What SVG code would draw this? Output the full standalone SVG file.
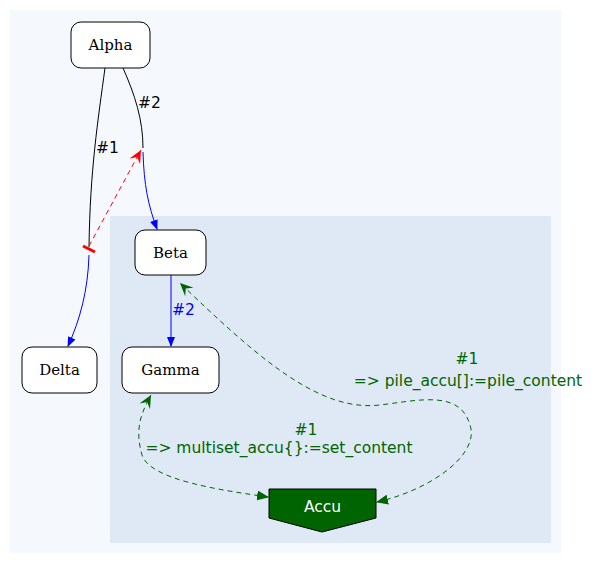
<svg xmlns="http://www.w3.org/2000/svg" width="604" height="564" viewBox="0 0 604 564">
<style>
.n{fill:#fff;stroke:#000;stroke-width:1}
.t{font-family:"DejaVu Serif","Liberation Serif",serif;font-size:15px;text-anchor:middle}
.l{font-family:"DejaVu Sans","Liberation Sans",sans-serif;font-size:15.5px}
.g{fill:none;stroke:#006400;stroke-dasharray:5,4}
</style>
<defs>
<marker id="ab" markerWidth="10" markerHeight="8" refX="9" refY="4" orient="auto" markerUnits="userSpaceOnUse"><path d="M0,0L10,4L0,8z" fill="#00f"/></marker>
<marker id="ag" markerWidth="12" markerHeight="10" refX="11" refY="5" orient="auto-start-reverse" markerUnits="userSpaceOnUse"><path d="M0,0L12,5L0,10z" fill="#006400"/></marker>
<marker id="vg" markerWidth="14" markerHeight="12" refX="13" refY="6" orient="auto" markerUnits="userSpaceOnUse"><path d="M0,0L13,6L0,12L5,6z" fill="#006400"/></marker>
<marker id="vr" markerWidth="14" markerHeight="12" refX="13" refY="6" orient="auto" markerUnits="userSpaceOnUse"><path d="M0,0L13,6L0,12L5,6z" fill="#f00"/></marker>
</defs>
<rect x="10" y="10" width="551" height="543" fill="#f5f9fe"/>
<rect x="110" y="216" width="441" height="327" fill="#dee9f5"/>
<g id="connectors">
<path d="M105,68C98,120 90,170 89,247" fill="none" stroke="#000"/>
<path d="M89,255C88,290 80,320 68,346" fill="none" stroke="#00f" marker-end="url(#ab)"/>
<path d="M123,68C135,95 143,120 143,148" fill="none" stroke="#000"/>
<path d="M143,152C144,185 148,205 157,229" fill="none" stroke="#00f" marker-end="url(#ab)"/>
<path d="M89,246L141,150" fill="none" stroke="#f00" stroke-dasharray="5,4" marker-end="url(#vr)"/>
<path d="M83,246L95,252" stroke="#f00" stroke-width="3"/>
<path d="M171,275L171,346" fill="none" stroke="#00f" marker-end="url(#ab)"/>
<path d="M377,502C430,490 480,455 470,425C460,390 420,400 380,405C320,412 260,360 180,283" class="g" marker-start="url(#ag)" marker-end="url(#vg)"/>
<path d="M268,497C220,490 150,480 142,455C135,430 140,415 151,395" class="g" marker-start="url(#ag)" marker-end="url(#vg)"/>
</g>
<text class="l" x="138" y="108">#2</text>
<text class="l" x="96" y="153">#1</text>
<text class="l" x="172" y="315" fill="#00f">#2</text>
<g class="l" fill="#006400" text-anchor="middle">
<text x="467" y="364">#1</text>
<text x="468" y="386">=&gt; pile_accu[]:=pile_content</text>
<text x="306" y="435">#1</text>
<text x="279" y="453">=&gt; multiset_accu{}:=set_content</text>
</g>
<g id="alpha"><rect class="n" x="71" y="22" width="79" height="46" rx="10"/><text class="t" x="110.5" y="50">Alpha</text></g>
<g id="beta"><rect class="n" x="135" y="230" width="71" height="45" rx="10"/><text class="t" x="170.5" y="258">Beta</text></g>
<g id="gamma"><rect class="n" x="122" y="347" width="97" height="46" rx="10"/><text class="t" x="170.5" y="375">Gamma</text></g>
<g id="delta"><rect class="n" x="22" y="347" width="75" height="46" rx="10"/><text class="t" x="59.5" y="375">Delta</text></g>
<g id="accu"><polygon points="269,489 376,489 376,518 322,532 269,518" fill="#006400" stroke="#000"/><text class="l" x="322.5" y="512" fill="#fff" text-anchor="middle">Accu</text></g>
</svg>
